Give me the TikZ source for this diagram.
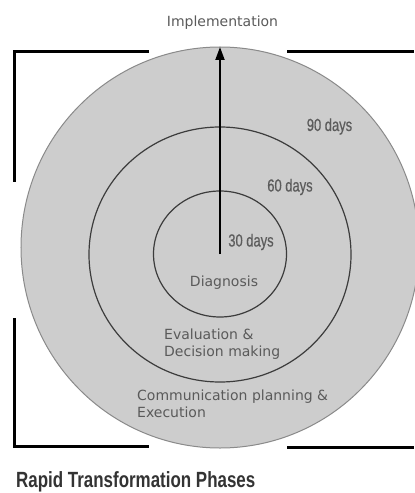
\documentclass[tikz,border=0pt]{standalone}
\usepackage{fontspec}
\setmainfont{DejaVu Sans}
\newfontfamily\narrowfont[FakeStretch=0.74,FakeBold=0.6]{Liberation Sans}
\newfontfamily\headfont[FakeStretch=0.77]{Liberation Sans}
\usetikzlibrary{shapes.geometric,arrows.meta}
\definecolor{ringfill}{HTML}{CDCDCD}
\definecolor{ringline}{HTML}{8A8A8A}
\definecolor{innerline}{HTML}{3C3C3C}
\definecolor{textgray}{HTML}{5A5A5A}
\definecolor{daygray}{HTML}{5C5C5C}
\definecolor{titlegray}{HTML}{333333}
\tikzset{
	ring/.style={ellipse,draw=innerline,line width=1.2bp,inner sep=0pt,outer sep=0pt},
	phase/.style={text=textgray,font=\fontsize{14bp}{16.7bp}\selectfont,inner sep=0pt,align=left},
	days/.style={text=daygray,font=\narrowfont\fontsize{17.5bp}{20bp}\selectfont,inner sep=0pt,anchor=base},
	bracket/.style={line width=3bp,black}
}

\begin{document}
\begin{tikzpicture}[x=1bp,y=-1bp]
		\useasboundingbox (0,0) rectangle (414,493);

		\node[ring,draw=ringline,line width=1bp,fill=ringfill,minimum width=398bp,minimum height=401bp] (outer) at (220,247.5) {};
		\node[ring,minimum width=262bp,minimum height=255bp] (middle) at (220,254.5) {};
		\node[ring,minimum width=133bp,minimum height=126bp] (inner) at (220,254) {};

		\draw[line width=2bp,-{Triangle[length=13bp,width=9bp]}] (inner.center) to (outer.north);

		\draw[bracket] (149,52) -- (14,52) -- (14,182);
		\draw[bracket] (14,318) -- (14,446) -- (149,446);
		\draw[bracket] (287,52) -- (414,52);
		\draw[bracket] (287,447) -- (414,447);

		\node[phase,anchor=base] (impl) at (222.5,26.5) {Implementation};
		\node[days] (d90) at (329.5,131) {90 days};
		\node[days] (d60) at (290,191.5) {60 days};
		\node[days] (d30) at (251,246.5) {30 days};
		\node[phase,anchor=base] (diag) at (224,286.5) {Diagnosis};
		\node[phase,anchor=base west] (eval) at (164,356) {Evaluation \&\\Decision making};
		\node[phase,anchor=base west] (comm) at (137,417.3) {Communication planning \&\\Execution};
		\node[anchor=base west,inner sep=0pt,text=titlegray,font=\headfont\bfseries\fontsize{22bp}{26bp}\selectfont] (title) at (16,487) {Rapid Transformation Phases};

\end{tikzpicture}
\end{document}
